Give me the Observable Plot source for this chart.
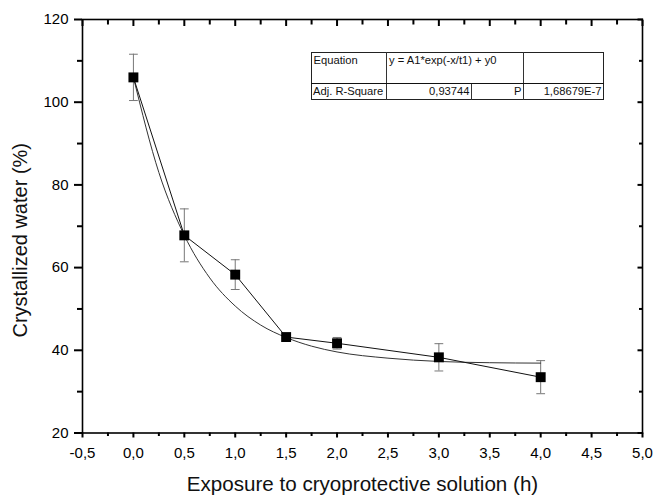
<!DOCTYPE html>
<html>
<head>
<meta charset="utf-8">
<script src="https://cdn.jsdelivr.net/npm/d3@7"></script>
<script src="https://cdn.jsdelivr.net/npm/@observablehq/plot@0.6"></script>
<style>
  body { margin: 0; background: #fff; }
  #wrap { position: relative; width: 656px; height: 496px; font-family: "Liberation Sans", Arial, sans-serif; }
  #wrap svg { display: block; }
  .tb { position: absolute; box-sizing: border-box; }
  .tt { position: absolute; font-size: 11.2px; line-height: 13px; color: #111; white-space: nowrap; }
</style>
</head>
<body>
<div id="wrap"></div>
<script>
// ---- data ----
const times = [0, 0.5, 1.0, 1.5, 2.0, 3.0, 4.0];
const water = [106.0, 67.8, 58.3, 43.2, 41.7, 38.3, 33.5];
const errs  = [5.6, 6.4, 3.6, 0.4, 1.4, 3.3, 4.0];

// fitted exponential-decay curve
const fitTimes  = [0, 0.25, 0.5, 0.75, 1.0, 1.25, 1.5, 1.75, 2.0, 2.5, 3.0, 3.5, 4.0];
const fitValues = [106.0, 83.0, 67.8, 57.5, 50.7, 46.1, 43.1, 41.0, 39.6, 38.1, 37.3, 37.0, 36.9];

// ticks
const xMajor = [-0.5, 0, 0.5, 1, 1.5, 2, 2.5, 3, 3.5, 4, 4.5, 5];
const xTickLabels = ["-0,5", "0,0", "0,5", "1,0", "1,5", "2,0", "2,5", "3,0", "3,5", "4,0", "4,5", "5,0"];
const xMinor = [-0.25, 0.25, 0.75, 1.25, 1.75, 2.25, 2.75, 3.25, 3.75, 4.25, 4.75];
const yMajor = [20, 40, 60, 80, 100, 120];
const yMinor = [30, 50, 70, 90, 110];

const xTitle = "Exposure to cryoprotective solution (h)";
const yTitle = "Crystallized water (%)";

// fit-result table text
const tableRow1 = ["Equation", "y = A1*exp(-x/t1) + y0", ""];
const tableRow2 = ["Adj. R-Square", "0,93744", "P", "1,68679E-7"];

// ---- build ----
const data = times.map((t, i) => ({t, w: water[i], lo: water[i] - errs[i], hi: water[i] + errs[i]}));
const fit = fitTimes.map((t, i) => ({t, w: fitValues[i]}));

const capShape = { draw(context, l) { context.moveTo(0, 0); context.lineTo(0, -l); } };
const noText = () => "";

const chart = Plot.plot({
  width: 656,
  height: 496,
  marginLeft: 82,
  marginRight: 14,
  marginTop: 19,
  marginBottom: 63.5,
  x: { domain: [-0.5, 5] },
  y: { domain: [20, 120] },
  style: { fontFamily: '"Liberation Sans", Arial, sans-serif', fontSize: "15px", color: "#000", background: "#fff", overflow: "visible" },
  marks: [
    // left axis (outward ticks)
    Plot.axisY(yMajor, { anchor: "left", tickSize: 8, tickPadding: 6, fontSize: 15, label: null, strokeWidth: 2 }),
    Plot.axisY(yMinor, { anchor: "left", tickSize: 5, tickFormat: noText, label: null, strokeWidth: 2 }),
    // right axis (inward ticks)
    Plot.axisY(yMajor, { anchor: "right", tickSize: 5.5, insetRight: 5.5, tickFormat: noText, label: null, strokeWidth: 2 }),
    Plot.axisY(yMinor, { anchor: "right", tickSize: 4, insetRight: 4, tickFormat: noText, label: null, strokeWidth: 2 }),
    // bottom axis (outward ticks)
    Plot.axisX(xMajor, { anchor: "bottom", tickSize: 5, tickPadding: 9.5, fontSize: 15, label: null, strokeWidth: 2,
      tickFormat: d => xTickLabels[xMajor.indexOf(d)] }),
    Plot.axisX(xMinor, { anchor: "bottom", tickSize: 3.5, tickFormat: noText, label: null, strokeWidth: 2 }),
    // top axis (inward ticks)
    Plot.axisX(xMajor, { anchor: "top", tickSize: 6, insetTop: 6, tickFormat: noText, label: null, strokeWidth: 2 }),
    Plot.axisX(xMinor, { anchor: "top", tickSize: 4.5, insetTop: 4.5, tickFormat: noText, label: null, strokeWidth: 2 }),
    Plot.frame({ stroke: "#000", strokeWidth: 1.6 }),
    // titles
    Plot.text([xTitle], { frameAnchor: "bottom", textAnchor: "middle", dy: 51, fontSize: 20.6, fill: "#111", lineAnchor: "middle" }),
    Plot.text([yTitle], { frameAnchor: "left", textAnchor: "middle", dx: -62, dy: 14, rotate: -90, fontSize: 20, fill: "#111", lineAnchor: "middle" }),
    // error bars
    Plot.ruleX(data, { x: "t", y1: "lo", y2: "hi", stroke: "#777", strokeWidth: 1 }),
    Plot.vector(data, { x: "t", y: "hi", rotate: 90, length: 8, anchor: "middle", shape: capShape, stroke: "#777", strokeWidth: 1 }),
    Plot.vector(data, { x: "t", y: "lo", rotate: 90, length: 8, anchor: "middle", shape: capShape, stroke: "#777", strokeWidth: 1 }),
    // fitted curve
    Plot.line(fit, { x: "t", y: "w", curve: "monotone-x", stroke: "#333", strokeWidth: 1 }),
    // connecting line
    Plot.line(data, { x: "t", y: "w", stroke: "#111", strokeWidth: 1 }),
    // markers
    Plot.dot(data, { x: "t", y: "w", symbol: "square", r: 5.6, fill: "#000", stroke: "none" })
  ]
});

const wrap = document.getElementById("wrap");
wrap.appendChild(chart);

// fit table overlay
function box(left, top, w, h, css) {
  const d = document.createElement("div");
  d.className = "tb";
  Object.assign(d.style, { left: left + "px", top: top + "px", width: w + "px", height: h + "px" }, css);
  wrap.appendChild(d);
}
function txt(s, left, top, align) {
  const d = document.createElement("div");
  d.className = "tt";
  d.textContent = s;
  d.style.top = top + "px";
  if (align === "right") { d.style.right = (656 - left) + "px"; } else { d.style.left = left + "px"; }
  wrap.appendChild(d);
}
// outer border
box(310.5, 52, 293, 47.5, { border: "1.2px solid #222", background: "#fff" });
// column dividers
box(386.2, 52, 1.2, 47.5, { background: "#333" });
box(522.8, 52, 1.2, 47.5, { background: "#333" });
box(470.9, 83, 1.2, 16.5, { background: "#333" });
// row divider
box(310.5, 82.6, 293, 1.8, { background: "#111" });

txt(tableRow1[0], 313.5, 53.8);
txt(tableRow1[1], 389, 53.8);
txt(tableRow2[0], 313, 84.8);
txt(tableRow2[1], 469.5, 84.8, "right");
txt(tableRow2[2], 521.5, 84.8, "right");
txt(tableRow2[3], 601.5, 84.8, "right");
</script>
</body>
</html>
